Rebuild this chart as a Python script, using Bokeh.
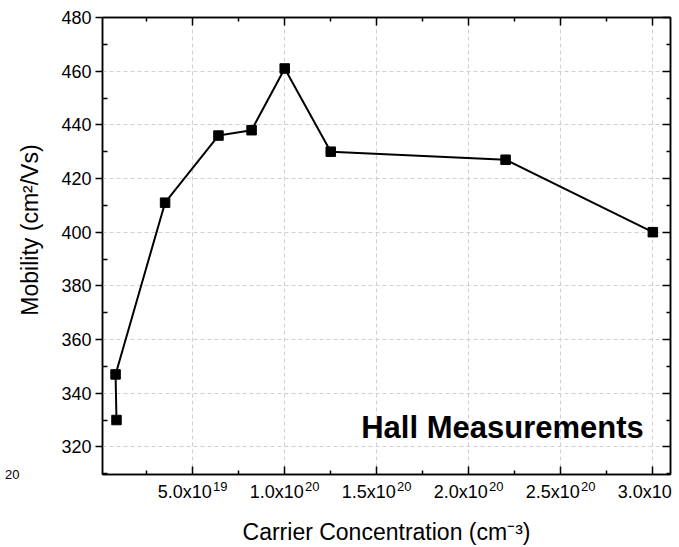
from bokeh.plotting import figure
from bokeh.models import LinearAxis, FixedTicker, Range1d, Label, CustomJSTickFormatter
from bokeh.embed import file_html
from bokeh.resources import INLINE

# Data
carrier = [8.6e18, 8.1e18, 3.5e19, 6.4e19, 8.2e19, 1.0e20, 1.25e20, 2.2e20, 3.0e20]
mobility = [330, 347, 411, 436, 438, 461, 430, 427, 400]

x_ticks = [5e19, 1e20, 1.5e20, 2e20, 2.5e20, 3e20]
x_tick_mant = ["5.0x10", "1.0x10", "1.5x10", "2.0x10", "2.5x10", "3.0x10"]
x_tick_exp = ["19", "20", "20", "20", "20", "20"]
x_minor = [2.5e19, 7.5e19, 1.25e20, 1.75e20, 2.25e20, 2.75e20]
y_ticks = [320, 340, 360, 380, 400, 420, 440, 460, 480]
y_minor = [310, 330, 350, 370, 390, 410, 430, 450, 470]

FONT = "Liberation Sans"
X_START, X_END = 1.0e18, 3.096e20
FRAME_W = 568
PX = (X_END - X_START) / FRAME_W  # data units per pixel (for label placement)

p = figure(width=679, height=547, output_backend="svg", toolbar_location=None,
           x_range=Range1d(X_START, X_END), y_range=Range1d(309.7, 480),
           min_border_left=102, min_border_right=9, min_border_top=17, min_border_bottom=72)
p.extra_y_ranges = {"stray": Range1d(0, 1)}

p.background_fill_color = "white"
p.border_fill_color = "white"
p.outline_line_color = "black"
p.outline_line_width = 1.5

# grids
for g in (p.xgrid, p.ygrid):
    g.grid_line_color = "#cfcfcf"
    g.grid_line_dash = "4 3"
    g.grid_line_width = 1
p.xgrid.ticker = FixedTicker(ticks=x_ticks)
p.ygrid.ticker = FixedTicker(ticks=y_ticks)

blank = CustomJSTickFormatter(code="return ''")

# bottom axis: ticks only
xa = p.xaxis[0]
xa.ticker = FixedTicker(ticks=x_ticks, minor_ticks=x_minor)
xa.formatter = blank
xa.major_tick_in = 8
xa.major_tick_out = 0
xa.minor_tick_in = 4
xa.minor_tick_out = 0
xa.major_label_standoff = 0
xa.major_label_text_font_size = "0px"
xa.axis_line_width = 1.5
xa.major_tick_line_width = 1.5
xa.minor_tick_line_width = 1.5

# exponent row of the x tick labels
exp_axis = LinearAxis(
    ticker=FixedTicker(ticks=[t + 27.5 * PX for t in x_ticks], minor_ticks=[]),
    formatter=CustomJSTickFormatter(args=dict(labels=x_tick_exp), code="return labels[index]"),
    major_tick_in=0, major_tick_out=0, minor_tick_in=0, minor_tick_out=0,
    major_tick_line_color=None, minor_tick_line_color=None, axis_line_color=None,
    major_label_standoff=7, major_label_text_font=FONT, major_label_text_font_size="13px",
    major_label_text_color="black")
p.add_layout(exp_axis, "below")

# mantissa row of the x tick labels + axis title
mant_axis = LinearAxis(
    ticker=FixedTicker(ticks=[t - 8 * PX for t in x_ticks], minor_ticks=[]),
    formatter=CustomJSTickFormatter(args=dict(labels=x_tick_mant), code="return labels[index]"),
    major_tick_in=0, major_tick_out=0, minor_tick_in=0, minor_tick_out=0,
    major_tick_line_color=None, minor_tick_line_color=None, axis_line_color=None,
    major_label_standoff=-12, major_label_text_font=FONT, major_label_text_font_size="18px",
    major_label_text_color="black",
    axis_label="Carrier Concentration (cm\u207b\u00b3)", axis_label_text_font=FONT,
    axis_label_text_font_size="23px", axis_label_text_font_style="normal",
    axis_label_text_color="black", axis_label_standoff=14)
p.add_layout(mant_axis, "below")

# left axis
ya = p.yaxis[0]
ya.ticker = FixedTicker(ticks=y_ticks, minor_ticks=y_minor)
ya.major_tick_in = 0
ya.major_tick_out = 7
ya.minor_tick_in = 5
ya.minor_tick_out = 0
ya.major_label_standoff = 4
ya.major_label_text_font = FONT
ya.major_label_text_font_size = "18px"
ya.major_label_text_color = "black"
ya.axis_label = "\u00a0" * 5 + "Mobility (cm\u00b2/Vs)"
ya.axis_label_text_font = FONT
ya.axis_label_text_font_size = "23px"
ya.axis_label_text_font_style = "normal"
ya.axis_label_text_color = "black"
ya.axis_label_standoff = 15
ya.axis_line_width = 1.5
ya.major_tick_line_width = 1.5
ya.minor_tick_line_width = 1.5

# stray exponent text at far left (as in the reference)
stray = LinearAxis(y_range_name="stray", ticker=FixedTicker(ticks=[0], minor_ticks=[]),
                   formatter=CustomJSTickFormatter(code="return '20'"),
                   major_tick_in=0, major_tick_out=0, minor_tick_in=0, minor_tick_out=0,
                   major_tick_line_color=None, minor_tick_line_color=None, axis_line_color=None,
                   major_label_standoff=-5, major_label_text_font=FONT,
                   major_label_text_font_size="13px", major_label_text_color="black")
p.add_layout(stray, "left")

top = LinearAxis(ticker=FixedTicker(ticks=x_ticks, minor_ticks=x_minor), formatter=blank,
                 major_tick_in=8, major_tick_out=0, minor_tick_in=4, minor_tick_out=0,
                 major_label_standoff=0, major_label_text_font_size="0px",
                 axis_line_width=1.5, major_tick_line_width=1.5, minor_tick_line_width=1.5)
right = LinearAxis(ticker=FixedTicker(ticks=y_ticks, minor_ticks=y_minor), formatter=blank,
                   major_tick_in=8, major_tick_out=0, minor_tick_in=4, minor_tick_out=0,
                   major_label_standoff=0, major_label_text_font_size="0px",
                   axis_line_width=1.5, major_tick_line_width=1.5, minor_tick_line_width=1.5)
p.add_layout(top, "above")
p.add_layout(right, "right")

# data
p.line(carrier, mobility, line_color="black", line_width=2)
p.scatter(carrier, mobility, marker="square", size=9.5, fill_color="black", line_color="black")

# in-plot title
p.add_layout(Label(x=400, y=47, x_units="screen", y_units="screen",
                   text="Hall Measurements", text_align="center", text_baseline="middle",
                   text_font=FONT, text_font_size="31px", text_font_style="bold",
                   text_color="black"))

open("out.html", "w").write(file_html(p, INLINE))
